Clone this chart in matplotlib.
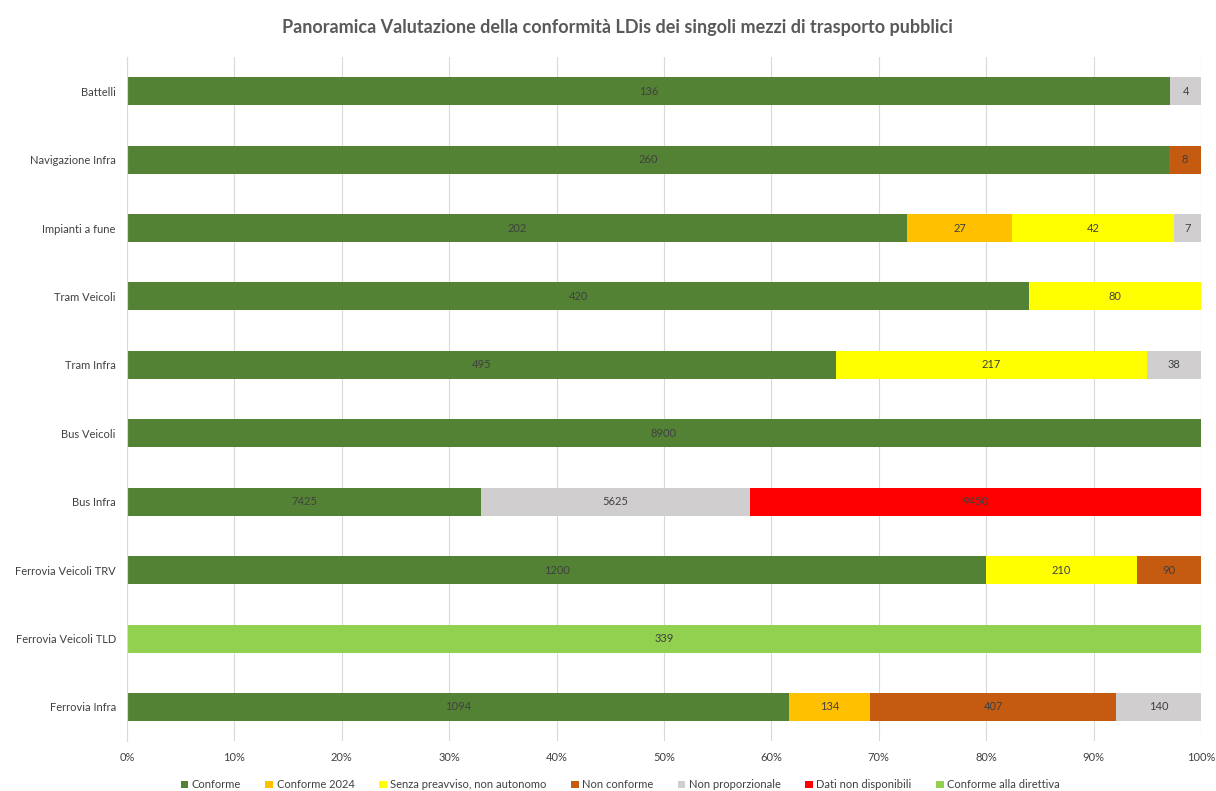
import numpy as np
from matplotlib import pyplot as plt

plt.rcParams['font.family'] = ['Lato', 'DejaVu Sans']

categories = ['Ferrovia Infra', 'Ferrovia Veicoli TLD', 'Ferrovia Veicoli TRV', 'Bus Infra',
              'Bus Veicoli', 'Tram Infra', 'Tram Veicoli', 'Impianti a fune',
              'Navigazione Infra', 'Battelli']

series_names = ['Conforme', 'Conforme 2024', 'Senza preavviso, non autonomo', 'Non conforme',
                'Non proporzionale', 'Dati non disponibili', 'Conforme alla direttiva']

conforme = [1094, 0, 1200, 7425, 8900, 495, 420, 202, 260, 136]
conforme_2024 = [134, 0, 0, 0, 0, 0, 0, 27, 0, 0]
senza_preavviso = [0, 0, 210, 0, 0, 217, 80, 42, 0, 0]
non_conforme = [407, 0, 90, 0, 0, 0, 0, 0, 8, 0]
non_proporzionale = [140, 0, 0, 5625, 0, 38, 0, 7, 0, 4]
dati_non_disponibili = [0, 0, 0, 9450, 0, 0, 0, 0, 0, 0]
conforme_direttiva = [0, 339, 0, 0, 0, 0, 0, 0, 0, 0]

colors = ['#548235', '#FFC000', '#FFFF00', '#C55A11', '#D0CECE', '#FF0000', '#92D050']

values = np.array([conforme, conforme_2024, senza_preavviso, non_conforme,
                   non_proporzionale, dati_non_disponibili, conforme_direttiva], dtype=float)
totals = values.sum(axis=0)
shares = values / totals

fig = plt.figure(figsize=(12.16, 7.91), dpi=100)
ax = fig.add_axes([0.1044, 0.063, 0.8833, 0.865])

y = np.arange(len(categories))
left = np.zeros(len(categories))
for i, name in enumerate(series_names):
    ax.barh(y, shares[i], left=left, height=0.41, color=colors[i], label=name, zorder=2)
    for j in range(len(categories)):
        if values[i, j] > 0:
            ax.text(left[j] + shares[i, j] / 2, y[j], f'{int(values[i, j])}',
                    ha='center', va='center', fontsize=8, color='#404040', zorder=3)
    left += shares[i]

ax.set_xlim(0, 1)
ax.set_ylim(-0.5, len(categories) - 0.5)
ax.set_yticks(y)
ax.set_yticklabels(categories, fontsize=8, color='#404040')
ax.set_xticks(np.arange(0, 1.01, 0.1))
ax.set_xticklabels([f'{int(round(t * 100))}%' for t in np.arange(0, 1.01, 0.1)],
                   fontsize=8, color='#404040')
ax.tick_params(axis='both', length=0, pad=8)
ax.grid(axis='x', color='#D9D9D9', linewidth=0.8, zorder=0)
for side in ['top', 'right', 'bottom']:
    ax.spines[side].set_visible(False)
ax.spines['left'].set_color('#D9D9D9')

fig.text(0.508, 0.965, 'Panoramica Valutazione della conformità LDis dei singoli mezzi di trasporto pubblici',
         ha='center', va='center', fontsize=13, fontweight='bold', color='#595959')

fig.legend(loc='lower center', bbox_to_anchor=(0.51, -0.012), ncol=7, frameon=False,
           fontsize=8, handlelength=0.7, handleheight=0.7, handletextpad=0.3,
           columnspacing=2.2, labelcolor='#404040')

fig.savefig('out.png', dpi=100)
